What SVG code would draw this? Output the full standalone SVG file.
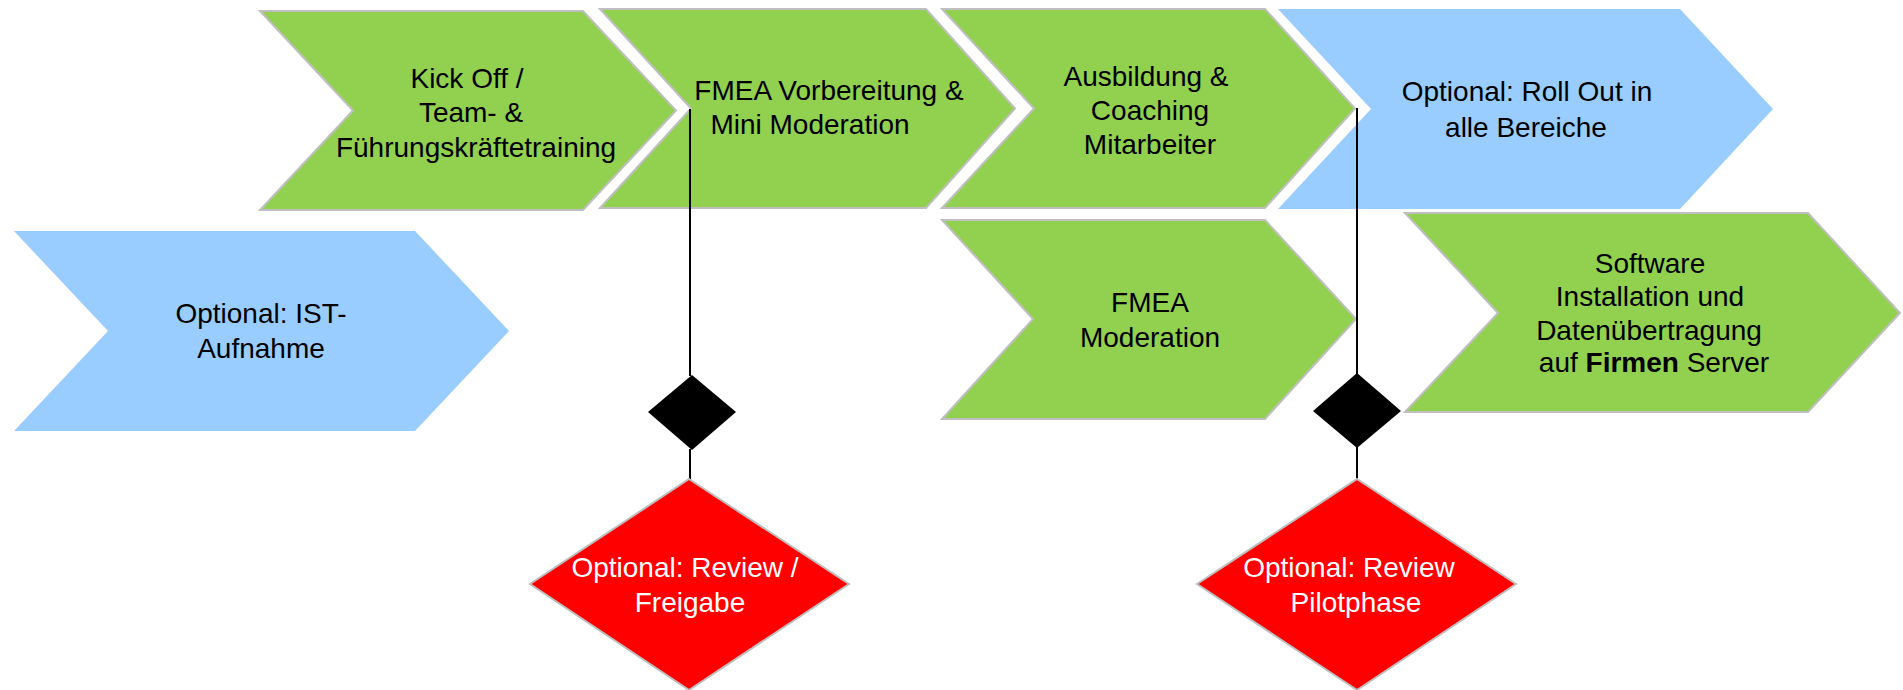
<svg xmlns="http://www.w3.org/2000/svg" width="1903" height="690" viewBox="0 0 1903 690">
<style>
.g{fill:#92D050;stroke:#BFBFBF;stroke-width:2}
.b{fill:#99CCFF;stroke:none}
.r{fill:#FF0000;stroke:#BFBFBF;stroke-width:2}
.k{fill:#000}
.ln{stroke:#000;stroke-width:2;fill:none}
text{font-family:"Liberation Sans",Arial,sans-serif;font-size:28px;fill:#000;text-anchor:middle}
.w{fill:#fff}
</style>
<rect width="1903" height="690" fill="#fff"/>
<g id="ist">
<polygon class="b" points="14,231 415,231 509,331 415,431 14,431 108,331"/>
<text x="261" y="323">Optional: IST-</text>
<text x="261" y="358">Aufnahme</text>
</g>
<g id="kickoff">
<polygon class="g" points="260,11 583,11 676,110.5 583,210 260,210 353,110.5"/>
<text x="467" y="88">Kick Off /</text>
<text x="471" y="122">Team- &amp;</text>
<text x="476" y="157">Führungskräftetraining</text>
</g>
<g id="fmea-vorbereitung">
<polygon class="g" points="600,9 926,9 1015,108.5 926,208 600,208 691,108.5"/>
<text x="829" y="100">FMEA Vorbereitung &amp;</text>
<text x="810" y="134">Mini Moderation</text>
</g>
<g id="ausbildung">
<polygon class="g" points="942,9 1265,9 1355,108.5 1265,208 942,208 1034,108.5"/>
<text x="1146" y="86">Ausbildung &amp;</text>
<text x="1150" y="120">Coaching</text>
<text x="1150" y="154">Mitarbeiter</text>
</g>
<g id="rollout">
<polygon class="b" points="1278,9 1680,9 1773,109 1680,209 1278,209 1371,109"/>
<text x="1527" y="101">Optional: Roll Out in</text>
<text x="1526" y="137">alle Bereiche</text>
</g>
<g id="fmea-moderation">
<polygon class="g" points="942,220 1265,220 1356,319 1265,419 942,419 1033,319"/>
<text x="1150" y="312">FMEA</text>
<text x="1150" y="347">Moderation</text>
</g>
<g id="software">
<polygon class="g" points="1405,213 1808,213 1900,313 1808,412 1405,412 1498,313"/>
<text x="1650" y="273">Software</text>
<text x="1650" y="306">Installation und</text>
<text x="1649" y="340">Datenübertragung</text>
<text x="1654" y="372">auf <tspan font-weight="bold">Firmen</tspan> Server</text>
</g>
<g id="connectors">
<line class="ln" x1="690" y1="109" x2="690" y2="376"/>
<line class="ln" x1="690" y1="449" x2="690" y2="479"/>
<line class="ln" x1="1357" y1="108" x2="1357" y2="374"/>
<line class="ln" x1="1357" y1="447" x2="1357" y2="479"/>
</g>
<g id="gate1">
<polygon class="k" points="692,375 736,412 692,450 648,412"/>
</g>
<g id="review1">
<polygon class="r" points="689,479 849,584 689,690 530,584"/>
<text class="w" x="685" y="577">Optional: Review /</text>
<text class="w" x="690" y="612">Freigabe</text>
</g>
<g id="gate2">
<polygon class="k" points="1357,373 1401,411 1357,448 1313,411"/>
</g>
<g id="review2">
<polygon class="r" points="1357,479 1516,584 1357,690 1197,584"/>
<text class="w" x="1349" y="577">Optional: Review</text>
<text class="w" x="1356" y="612">Pilotphase</text>
</g>
</svg>
